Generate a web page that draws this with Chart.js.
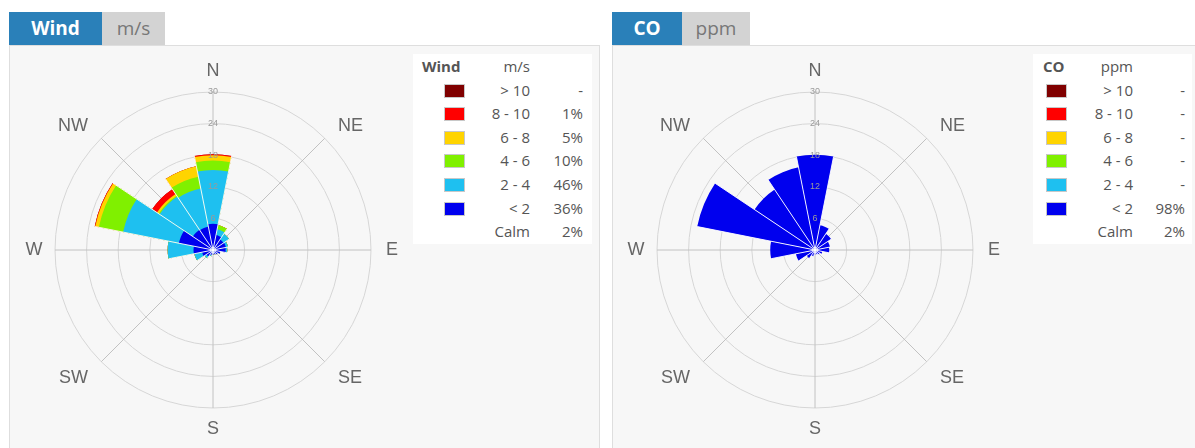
<!DOCTYPE html>
<html>
<head>
<meta charset="utf-8">
<script src="https://cdn.jsdelivr.net/npm/chart.js@4.4.1/dist/chart.umd.min.js"></script>
<style>
body { margin:0; width:1195px; height:448px; overflow:hidden; background:#fff; position:relative; font-family:"Open Sans", sans-serif; }
.tab { position:absolute; top:12px; height:33px; line-height:33px; font-size:19px; text-align:center; }
.tab.main { background:#2a80b9; color:#fff; font-weight:bold; }
.tab.unit { background:#d3d3d3; color:#777; }
.panel { position:absolute; top:45px; height:420px; background:#f7f7f7; border:1px solid #dedede; box-sizing:border-box; }
canvas { position:absolute; top:50px; }
.legend { position:absolute; top:54px; height:190px; background:#fff; color:#555; font-size:15px; }
.row { position:relative; height:23.6px; line-height:23.6px; }
.row span { position:absolute; top:0; white-space:pre; }
.sw { position:absolute; top:5px; height:12px; border:1px solid #c8c8c8; box-sizing:content-box; }
</style>
</head>
<body>
<div class="panel" style="left:9px; width:591px;"></div>
<div class="tab main" style="left:9px; width:93px;">Wind</div>
<div class="tab unit" style="left:102px; width:63px;">m/s</div>
<canvas id="wind" width="400" height="400" style="left:13px;"></canvas>
<div class="legend" id="legWind" style="left:413px; width:179px;"></div>

<div class="panel" style="left:612px; width:600px;"></div>
<div class="tab main" style="left:612px; width:70px;">CO</div>
<div class="tab unit" style="left:682px; width:68px;">ppm</div>
<canvas id="co" width="400" height="400" style="left:615px;"></canvas>
<div class="legend" id="legCo" style="left:1033px; width:159px;"></div>

<script>
const directions = ['N','NNE','NE','ENE','E','ESE','SE','SSE','S','SSW','SW','WSW','W','WNW','NW','NNW'];
const compass = ['N','NE','E','SE','S','SW','W','NW'];
const rTicks = [0, 6, 12, 18, 24, 30];

// wind speed bins, % of time per direction
const windLt2  = [5.0, 2.9, 2.4, 2.5, 2.4, 1.4, 1.0, 0.8, 0.8, 1.0, 1.5, 2.1, 3.7, 6.6, 4.6, 4.5];
const wind2_4  = [10.2, 1.1, 1.3, 0.4, 0.3, 0, 0, 0, 0, 0.2, 0.4, 1.5, 4.9, 10.8, 7.6, 7.4];
const wind4_6  = [1.8, 0.8, 0, 0, 0, 0, 0, 0, 0, 0, 0, 0, 0, 4.7, 0.2, 2.3];
const wind6_8  = [1.0, 0, 0, 0, 0, 0, 0, 0, 0, 0, 0, 0, 0, 0.7, 0.4, 2.0];
const wind8_10 = [0.2, 0, 0, 0, 0, 0, 0, 0, 0, 0, 0, 0, 0, 0.1, 1.1, 0];
const windGt10 = [0, 0, 0, 0, 0, 0, 0, 0, 0, 0, 0, 0, 0, 0, 0, 0];

// CO, everything in the lowest bin
const coLt2 = [18.1, 4.8, 3.7, 2.9, 2.7, 1.4, 1.0, 0.8, 0.8, 1.2, 1.9, 3.7, 8.5, 22.8, 13.8, 16.0];

const binLabels = ['> 10', '8 - 10', '6 - 8', '4 - 6', '2 - 4', '< 2'];
const binColors = ['#800000', '#ff0000', '#ffd400', '#80f000', '#1ec0f0', '#0000ee'];
const windPct = ['-', '1%', '5%', '10%', '46%', '36%'];
const coPct = ['-', '-', '-', '-', '-', '98%'];
const calmWind = '2%';
const calmCo = '2%';

const rosePlugin = {
  id: 'rose',
  beforeDatasetsDraw(chart) {
    const s = chart.scales.r, ctx = chart.ctx, R = s.drawingArea;
    ctx.save();
    ctx.strokeStyle = '#c2c2c2';
    ctx.lineWidth = 1;
    ctx.fillStyle = '#666';
    ctx.font = '18px "Liberation Sans", Arial, sans-serif';
    ctx.textBaseline = 'middle';
    compass.forEach((name, k) => {
      const a = k * Math.PI / 4 - Math.PI / 2;
      const cx = Math.cos(a), cy = Math.sin(a);
      ctx.beginPath();
      ctx.moveTo(s.xCenter, s.yCenter);
      ctx.lineTo(s.xCenter + R * cx, s.yCenter + R * cy);
      ctx.stroke();
      if (k % 2 === 0) {
        // cardinal points
        ctx.textAlign = 'center';
        ctx.fillText(name, s.xCenter + (R + 21) * cx, s.yCenter + (R + 21) * cy);
      } else {
        ctx.textAlign = cx < 0 ? 'right' : 'left';
        ctx.fillText(name, s.xCenter + (R + 16) * cx + (cx < 0 ? -2 : 2), s.yCenter + (R + (cy < 0 ? 18 : 23)) * cy);
      }
    });
    ctx.restore();
  },
  afterDatasetsDraw(chart) {
    const s = chart.scales.r, ctx = chart.ctx;
    const meta = chart.getDatasetMeta(chart.data.datasets.length - 1);
    const arcs = meta.data, n = arcs.length;
    ctx.save();
    ctx.strokeStyle = 'rgba(255,255,255,0.9)';
    ctx.lineWidth = 1;
    arcs.forEach((arc, i) => {
      const prev = arcs[(i - 1 + n) % n];
      const len = Math.max(arc.outerRadius, prev.outerRadius);
      ctx.beginPath();
      ctx.moveTo(s.xCenter, s.yCenter);
      ctx.lineTo(s.xCenter + len * Math.cos(arc.startAngle), s.yCenter + len * Math.sin(arc.startAngle));
      ctx.stroke();
    });
    ctx.fillStyle = '#9a9a9a';
    ctx.font = '9px "Liberation Sans", Arial, sans-serif';
    ctx.textAlign = 'center';
    ctx.textBaseline = 'middle';
    s.ticks.forEach(t => {
      if (t.value === 0) return;
      ctx.fillText(t.label, s.xCenter, s.yCenter - s.getDistanceFromCenterForValue(t.value));
    });
    ctx.restore();
  }
};

function makeRose(id, bins, colors) {
  // stacked look: cumulative layers, smallest drawn on top
  const datasets = [];
  let run = directions.map(() => 0);
  bins.forEach((b, k) => {
    run = run.map((v, i) => v + b[i]);
    datasets.push({ data: run.slice(), backgroundColor: colors[k], borderWidth: 0 });
  });
  new Chart(document.getElementById(id), {
    type: 'polarArea',
    data: { labels: directions, datasets: datasets },
    options: {
      responsive: false,
      animation: false,
      layout: { padding: 42 },
      plugins: { legend: { display: false }, tooltip: { enabled: false } },
      scales: {
        r: {
          min: 0, max: 30, startAngle: -11.25,
          afterBuildTicks: sc => { sc.ticks = rTicks.map(v => ({ value: v, label: String(v) })); },
          ticks: { display: false },
          grid: { color: '#d6d6d6', circular: true },
          angleLines: { display: false },
          pointLabels: { display: false }
        }
      }
    },
    plugins: [rosePlugin]
  });
}

makeRose('wind', [windLt2, wind2_4, wind4_6, wind6_8, wind8_10, windGt10], binColors.slice().reverse());
makeRose('co', [coLt2], [binColors[5]]);

function makeLegend(id, title, unit, pct, calm, pos) {
  const el = document.getElementById(id);
  const w = parseFloat(el.style.width);
  let html = '<div class="row" style="margin-top:1px">' +
    '<span style="left:' + pos.title + 'px;font-weight:bold">' + title + '</span>' +
    '<span style="right:' + (w - pos.range) + 'px">' + unit + '</span></div>';
  binLabels.forEach((lab, k) => {
    html += '<div class="row">' +
      '<div class="sw" style="left:' + pos.sw + 'px;width:' + pos.swW + 'px;background:' + binColors[k] + '"></div>' +
      '<span style="right:' + (w - pos.range) + 'px">' + lab + '</span>' +
      '<span style="right:' + (w - pos.pct) + 'px">' + pct[k] + '</span></div>';
  });
  html += '<div class="row"><span style="right:' + (w - pos.range) + 'px">Calm</span>' +
    '<span style="right:' + (w - pos.pct) + 'px">' + calm + '</span></div>';
  el.innerHTML = html;
}

makeLegend('legWind', 'Wind', 'm/s', windPct, calmWind, { title: 9, sw: 31, swW: 19, range: 117, pct: 170 });
makeLegend('legCo', 'CO', 'ppm', coPct, calmCo, { title: 10, sw: 13, swW: 19, range: 100, pct: 152 });
</script>
</body>
</html>
